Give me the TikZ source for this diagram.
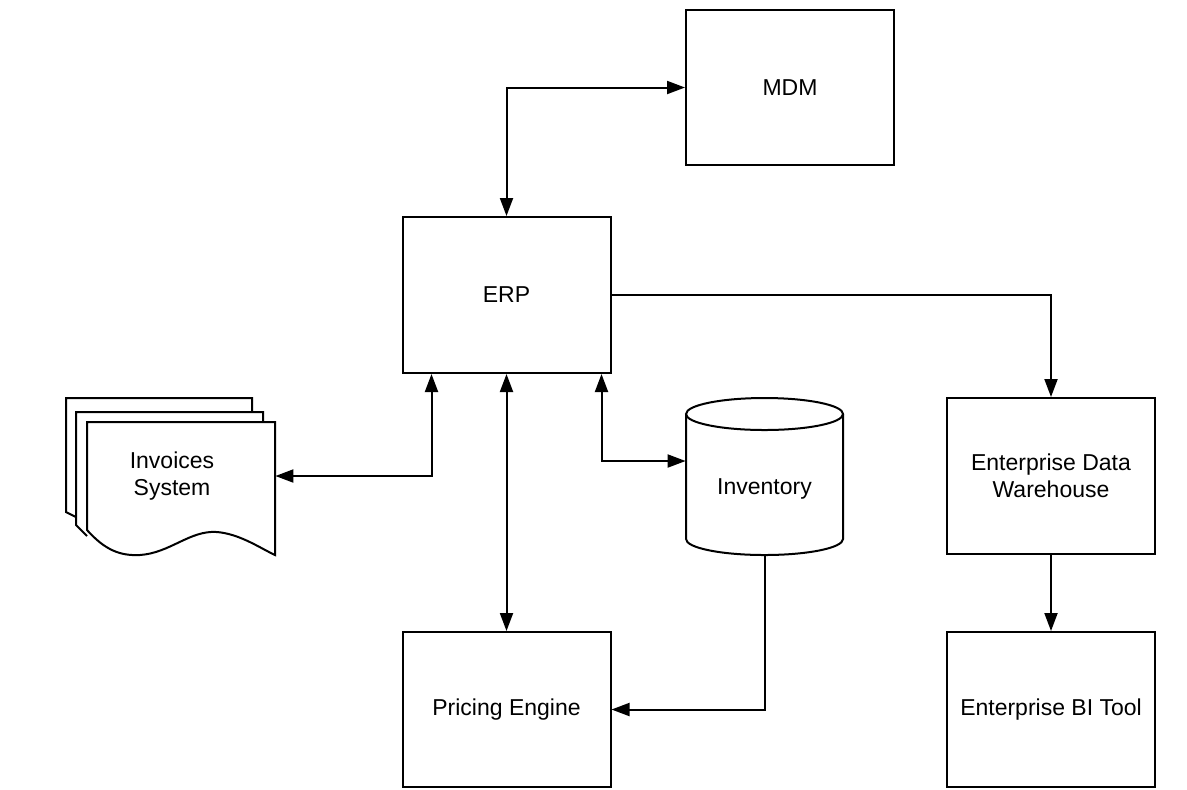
\documentclass[tikz,border=0pt]{standalone}
\usepackage{fontspec}
\setmainfont{Liberation Sans}
\usetikzlibrary{positioning,calc,arrows.meta}

\begin{document}
\begin{tikzpicture}[x=0.5pt, y=-0.5pt,
    box/.style={draw, line width=1pt, fill=white, minimum width=104pt, minimum height=78pt, align=center},
    link/.style={line width=1pt, {Triangle[length=9pt,width=6.5pt]}-{Triangle[length=9pt,width=6.5pt]}},
    flow/.style={line width=1pt, -{Triangle[length=9pt,width=6.5pt]}},
    font=\fontsize{11.5}{13.5}\selectfont]

        \useasboundingbox (0,0) rectangle (1187,789);

        % invoices: stacked pages
        \begin{scope}[line width=1pt, fill=white]
            \filldraw[fill=white] (76,517) -- (66,512) -- (66,398) -- (252,398) -- (252,412);
            \filldraw[fill=white] (87,536) -- (76,525) -- (76,412) -- (263,412) -- (263,422);
            \filldraw[fill=white] (87,530) -- (87,422) -- (275,422) -- (275,555)
                .. controls (260,548) and (240,534) .. (217,532)
                .. controls (190,530) and (170,553) .. (140,555)
                .. controls (120,556) and (105,550) .. (87,530) -- cycle;
        \end{scope}

        % inventory cylinder
        \filldraw[line width=1pt, fill=white] (686,414) -- (686,539)
            arc[start angle=180, end angle=0, x radius=78.5, y radius=16] -- (843,414);
        \draw[line width=1pt] (764.5,414) ellipse[x radius=78.5, y radius=16];

        \node[box, minimum height=77.5pt] (mdm) at (790,87.5) {MDM};
        \node[box] (erp) at (506.5,295) {ERP};
        \node[box, minimum height=77.5pt] (price) at (506.5,709.5) {Pricing Engine};
        \node[box] (edw) at (1051,476) {Enterprise Data\\Warehouse};
        \node[box, minimum height=77.5pt] (bi) at (1051,709.5) {Enterprise BI Tool};
        \node[minimum width=103pt, align=center] (inv) at (172,476) {Invoices\\System};
        \node[minimum width=78.5pt, minimum height=66pt] (invt) at (764.5,489) {Inventory};

        \draw[link] (erp.north) |- (mdm.west);
        \draw[link] ([xshift=15pt]erp.south west) |- (inv.east);
        \draw[link] (erp.south) -- (price.north);
        \draw[link] ([xshift=-5pt]erp.south east) |- ([yshift=14pt]invt.west);
        \draw[flow] (erp.east) -| (edw.north);
        \draw[flow] (edw.south) -- (bi.north);
        \draw[flow] (invt.south) |- (price.east);

    \end{tikzpicture}
\end{document}
